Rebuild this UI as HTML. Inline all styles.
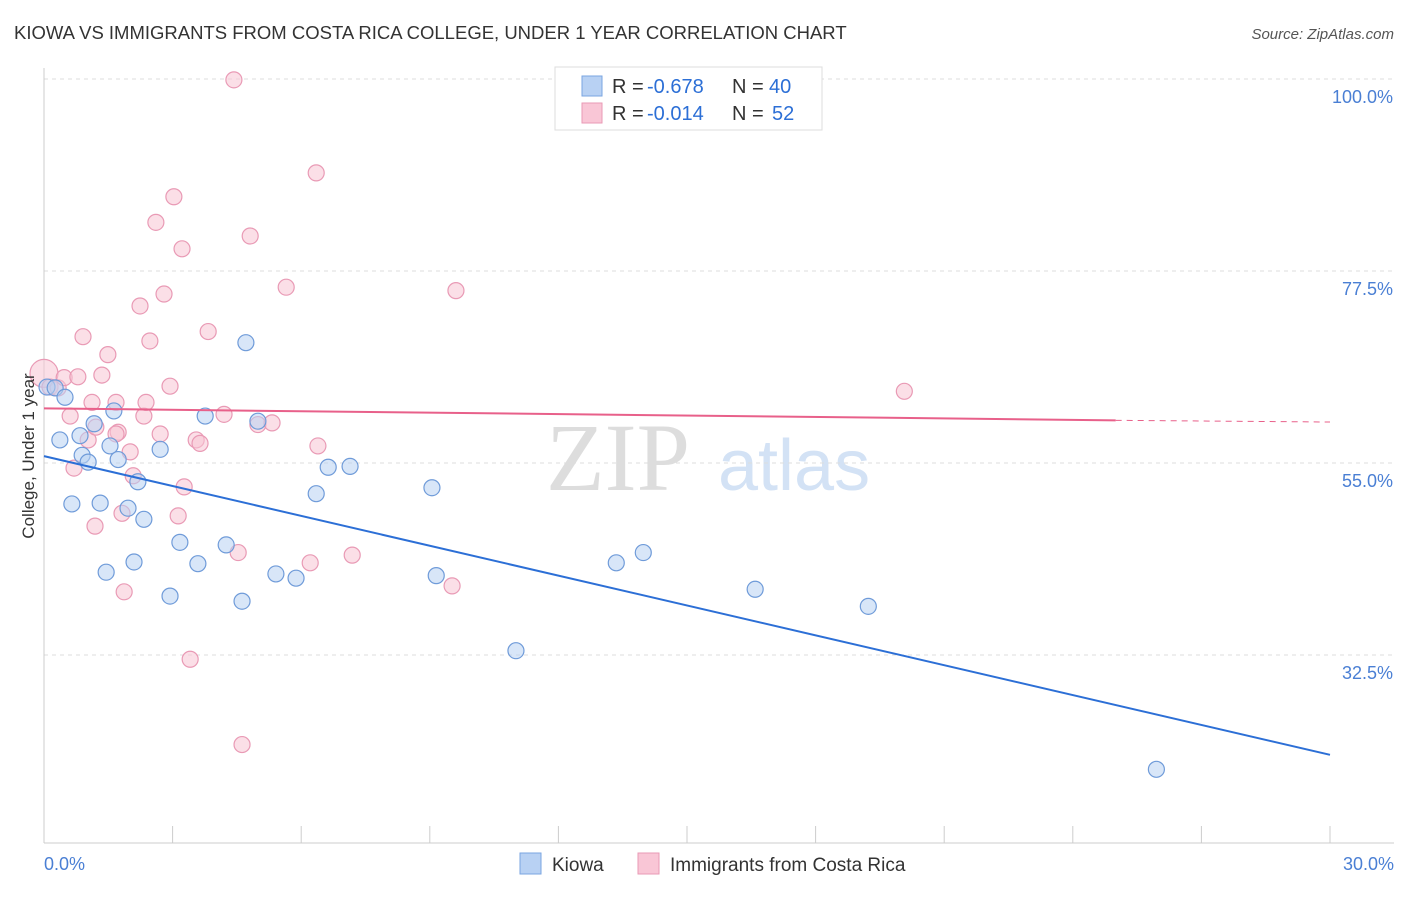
<!DOCTYPE html>
<html><head><meta charset="utf-8"><style>
body{margin:0;background:#fff;font-family:"Liberation Sans",sans-serif}
</style></head><body>
<svg id="c" width="1406" height="892" xmlns="http://www.w3.org/2000/svg">
<text x="14" y="39" font-size="18.5" fill="#333">KIOWA VS IMMIGRANTS FROM COSTA RICA COLLEGE, UNDER 1 YEAR CORRELATION CHART</text>
<text x="1394" y="39" font-size="15" fill="#555" font-style="italic" text-anchor="end">Source: ZipAtlas.com</text>
<text x="690" y="490" font-size="96" fill="#ddd" font-family="Liberation Serif" text-anchor="end">ZIP</text>
<text x="718" y="490" font-size="72" fill="#d3e2f5">atlas</text>
<g id="grid"></g><g id="marks"></g>
<text transform="translate(34,456) rotate(-90)" font-size="17" fill="#333" text-anchor="middle">College, Under 1 year</text>
<g>
<rect x="555" y="67" width="267" height="63" fill="#fff" stroke="#ddd"/>
<rect x="582" y="76" width="20" height="20" fill="#b8d1f3" stroke="#7aa5e0"/>
<rect x="582" y="103" width="20" height="20" fill="#f9c6d6" stroke="#e99ab5"/>
<text x="612" y="93" font-size="20" fill="#333">R =</text>
<text x="647" y="93" font-size="20" fill="#2c6fd6">-0.678</text>
<text x="732" y="93" font-size="20" fill="#333">N =</text>
<text x="769" y="93" font-size="20" fill="#2c6fd6">40</text>
<text x="612" y="120" font-size="20" fill="#333">R =</text>
<text x="647" y="120" font-size="20" fill="#2c6fd6">-0.014</text>
<text x="732" y="120" font-size="20" fill="#333">N =</text>
<text x="772" y="120" font-size="20" fill="#2c6fd6">52</text>
</g>
<g>
<rect x="520" y="853" width="21" height="21" fill="#b8d1f3" stroke="#7aa5e0"/>
<text x="552" y="871" font-size="19" fill="#333">Kiowa</text>
<rect x="638" y="853" width="21" height="21" fill="#f9c6d6" stroke="#e99ab5"/>
<text x="670" y="871" font-size="19" fill="#333">Immigrants from Costa Rica</text>
</g>
</svg>
<script>
const yTicks=[100,77.5,55,32.5];
const yTickLabels=["100.0%","77.5%","55.0%","32.5%"];
const xTickLabels=["0.0%","30.0%"];
const kiowaX=[0.07,0.26,0.49,0.37,0.84,0.89,1.03,1.17,1.54,1.63,1.73,0.65,1.31,1.96,2.19,2.33,2.71,1.45,2.10,2.94,3.17,3.59,3.76,4.25,4.62,4.71,4.99,5.41,5.88,6.35,6.63,7.14,9.05,9.15,11.01,13.35,13.98,16.59,19.23,25.95];
const kiowaY=[63.9,63.8,62.7,57.7,58.2,55.9,55.1,59.6,57.0,61.1,55.4,50.2,50.3,49.7,52.8,48.4,56.6,42.2,43.4,39.4,45.7,43.2,60.5,45.4,38.8,69.1,59.9,42.0,41.5,51.4,54.5,54.6,52.1,41.8,33.0,43.3,44.5,40.2,38.2,19.1];
const costaX=[0,0.14,0.33,0.47,0.79,0.61,0.91,1.49,1.35,1.12,1.03,0.70,1.19,1.73,2.01,2.08,1.82,1.87,2.24,2.33,2.38,2.47,2.61,2.71,2.80,2.94,3.03,3.13,3.22,3.27,3.41,3.55,3.64,3.83,4.20,4.43,4.53,4.62,4.81,4.99,5.32,5.65,6.21,6.35,6.39,7.19,9.52,9.61,20.07,1.21,1.68,1.68];
const costaY=[65.5,63.9,63.8,65.0,65.1,60.5,69.8,67.7,65.3,62.1,57.7,54.4,47.6,58.6,56.3,53.5,49.1,39.9,73.4,60.5,62.1,69.3,83.2,58.4,74.8,64.0,86.2,48.8,80.1,52.2,32.0,57.7,57.3,70.4,60.7,99.9,44.5,22.0,81.6,59.5,59.7,75.6,43.3,89.0,57.0,44.2,40.6,75.2,63.4,59.2,58.4,62.1];
const kiowaTrend=[55.8,20.8];
const costaTrend=[61.4,60.0,59.8];
const X=v=>44+v/30*1286, Y=v=>79+(100-v)*8.533;
const NS="http://www.w3.org/2000/svg";
function mk(p,t,a){const e=document.createElementNS(NS,t);for(const k in a)e.setAttribute(k,a[k]);p.appendChild(e);return e;}
const g=document.getElementById('grid'),m=document.getElementById('marks');
yTicks.forEach((t,i)=>{
 const l=mk(g,'line',{x1:44,x2:1394,y1:Y(t),y2:Y(t),stroke:'#ddd','stroke-dasharray':'4,4'});
 
 
 const tx=mk(g,'text',{x:1393,y:Y(t)+24,'font-size':18,fill:'#4a7fd4','text-anchor':'end'});
 tx.textContent=yTickLabels[i];
 
 
});
mk(g,'line',{x1:44,x2:44,y1:68,y2:843,stroke:'#ccc'});
mk(g,'line',{x1:44,x2:1394,y1:843,y2:843,stroke:'#ccc'});
for(let i=0;i<=10;i++){const t=mk(g,'line',{x1:X(i*3),x2:X(i*3),y1:826,y2:843,stroke:'#ccc'});
 
 }
[[0,'start'],[30,'end']].forEach((d,i)=>{const t=mk(g,'text',{x:i?1394:X(d[0]),y:870,'font-size':18,fill:'#4a7fd4','text-anchor':d[1]});t.textContent=xTickLabels[i];
 
 });
costaX.forEach((x,i)=>{const c=mk(m,'circle',{cx:X(x),cy:Y(costaY[i]),r:i==0?14:8,fill:'#f7c4d4','fill-opacity':0.55,stroke:'#e99ab5','stroke-width':1.2});
 
 });
kiowaX.forEach((x,i)=>{const c=mk(m,'circle',{cx:X(x),cy:Y(kiowaY[i]),r:8,fill:'#b8d1f3','fill-opacity':0.55,stroke:'#6f9bd9','stroke-width':1.2});
 
 });
let l=mk(m,'line',{x1:X(0),y1:Y(kiowaTrend[0]),x2:X(30),y2:Y(kiowaTrend[1]),stroke:'#2c6fd6','stroke-width':2});


l=mk(m,'line',{x1:X(0),y1:Y(costaTrend[0]),x2:X(25),y2:Y(costaTrend[1]),stroke:'#e8608a','stroke-width':2});


l=mk(m,'line',{x1:X(25),y1:Y(costaTrend[1]),x2:X(30),y2:Y(costaTrend[2]),stroke:'#e8608a','stroke-width':1,'stroke-dasharray':'6,5'});


</script>
</body></html>
